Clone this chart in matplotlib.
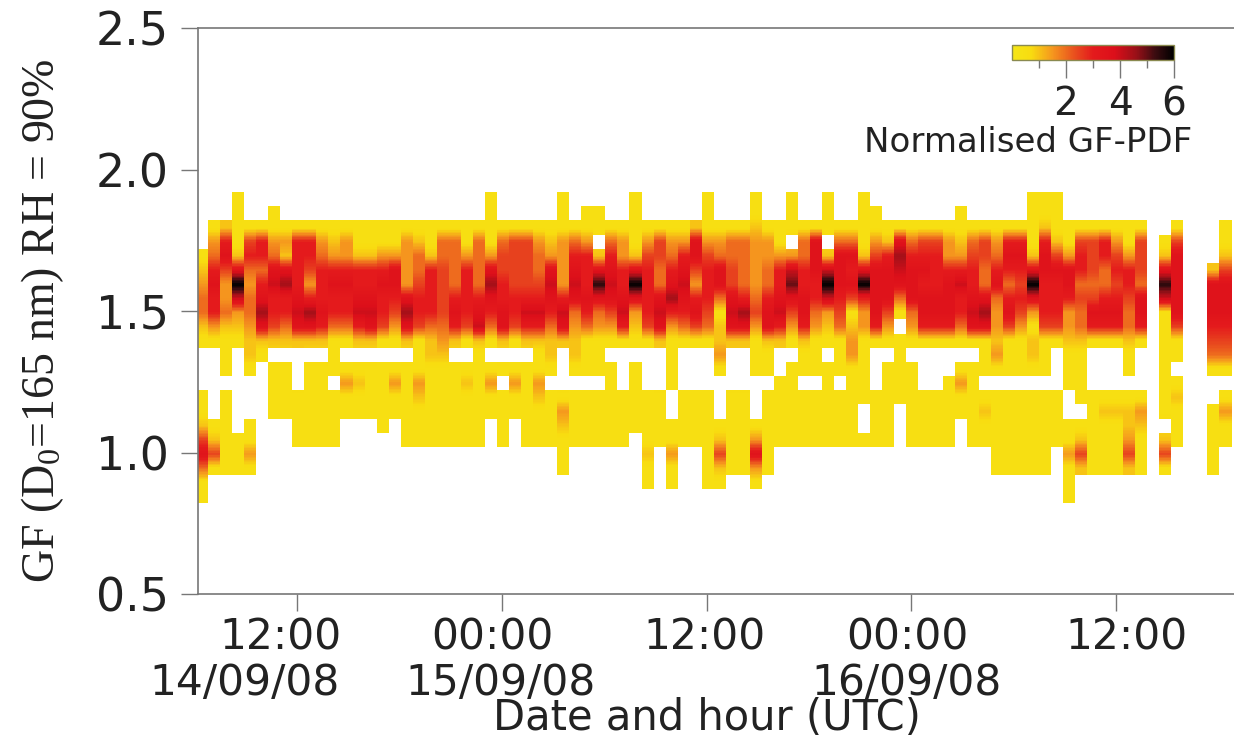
#!/usr/bin/env python3
# GF-PDF time series, RH = 90%, D0 = 165 nm
import numpy as np
import matplotlib
matplotlib.use('Agg')
import matplotlib.pyplot as plt
from matplotlib.colors import LinearSegmentedColormap

W, H = 1234, 739

# one entry per time step: PDF in half units (hex digit), '.' = no data
# first 11 chars GF 1.895 -> 1.395, next 11 chars GF 1.345 -> 0.845
upper = [
    "....1234421", "..134676631", "..267533421", "111127c8321", "..156434432",
    "..166467972", ".1134786652", "..132796642", "..166667872", "..166536972",
    "..134666762", "..123676641", "..133676641", "..112667862", "..112667872",
    "..113676651", "..113776531", "..133337972", "..124456651", "..112666642",
    "..144555543", "..144446762", "..113666651", "..144446782", "11113797641",
    "..145566772", "..155556651", "..155556862", "..134456862", "..123787642",
    "11133336872", "..146787432", ".1136667641", ".11.27b7431", "..146787531",
    "..133667861", "111127c7321", "..135666651", "..155447872", "..134679631",
    "..136787641", "..277536751", "11135666541", "..134774122", "..144557872",
    "..144446972", "11233334531", "..133446772", "..113667862", "111.38a7531",
    "..144667762", "..177766431", "111.28c8321", "..147776541", "..147675123",
    "111127c6331", ".1135777761", "..126777531", "..1798741.1", "..146777431",
    "..156767761", "..156667761", "..133677761", ".1123686641", "..145667871",
    "..155447971", "..134674332", "..167646751", "..167656531", "111127c7312",
    "11267766651", "11125766651", "..113776332", "..156645442", "..155545761",
    "..166446761", "..135656761", "..113665442", "..155547761", "...........",
    "...127b8111", "..157777751", "...........", "...........", ".....277765",
    "..112577765",
]
lower = [
    "...11257411", ".....1251..", "11.111111..", "......111..", "21...1131..",
    "1..........", ".1111......", ".1111......", "...1111....", ".111111....",
    ".111111....", "11.1111....", ".1311......", ".1211......", ".1111......",
    ".11111.....", ".1311......", ".111111....", "1132111....", "2111111....",
    "2111111....", ".111111....", ".121111....", "1111111....", ".1311......",
    ".1.1111....", ".1311......", ".111111....", "1132111....", "21.1111....",
    "...132111..", "21.1111....", "11.1111....", "11.1111....", ".111111....",
    "...1111....", ".11111.....", "...1111211.", "...1111....", "111..11311.",
    "...1111....", "...1111....", "...1111111.", "31...12521.", "...111111..",
    "...111111..", "11...13731.", "11.111111..", "..11111....", ".111111....",
    "11.1111....", "11.1111....", ".111111....", "11.1111....", "3111111....",
    "1111..1....", "...1111....", ".111111....", "1111.......", ".111111....",
    "...1111....", "...1111....", "..11111....", ".1311......", ".111111....",
    "11.1211....", "31.111111..", "11.111111..", "11.111111..", "21.111111..",
    "11.111111..", "...1111....", "111..113111", "1111.1252..", "...111111..",
    "...121111..", "...121111..", "11.122352..", "...132111..", "...........",
    "11111.251..", "1.12111....", "...........", "...........", "41..11111..",
    "41.1311....",
]

gf_centres = np.arange(1.895, 0.84, -0.05)
gf_ticks = [0.5, 1.0, 1.5, 2.0, 2.5]
hour_ticks = [12, 24, 36, 48, 60]
cbar_ticks = [2, 4, 6]
cbar_minor = [1, 3, 5]
hour_labels = ["12:00", "00:00", "12:00", "00:00", "12:00"]
date_labels = ["14/09/08", "15/09/08", "16/09/08"]

t0 = 6.08    # hours since 14/09 00:00, left edge of the first step
dt = 0.7057


def decode(col):
    col = col.ljust(22, '.')[:22]
    return [np.nan if c == '.' else int(c, 16) / 2.0 for c in col]


pdf = np.array([decode(u + l) for u, l in zip(upper, lower)]).T
pdf = pdf[::-1]
gf = gf_centres[::-1]

# smooth vertically inside the measured bins, columns stay blocky
gf_edges = np.arange(0.82, 1.9201, 0.005)
gf_fine = 0.5 * (gf_edges[1:] + gf_edges[:-1])
idx = np.clip(((gf_fine - 0.82) / 0.05).astype(int), 0, len(gf) - 1)
fine = np.full((len(gf_fine), pdf.shape[1]), np.nan)
for j in range(pdf.shape[1]):
    ok = ~np.isnan(pdf[:, j])
    if ok.any():
        v = np.interp(gf_fine, gf[ok], pdf[ok, j])
        fine[:, j] = np.where(ok[idx], v, np.nan)

t_edges = t0 + dt * np.arange(pdf.shape[1] + 1)

cmap = LinearSegmentedColormap.from_list('gfpdf', [
    (0.0, '#f5e616'), (0.7 / 6, '#f8dc10'), (1.5 / 6, '#f5961e'),
    (2.4 / 6, '#e8481e'), (3.0 / 6, '#e41a1c'), (3.8 / 6, '#dc0f1a'),
    (4.6 / 6, '#9a1018'), (5.3 / 6, '#3c0c10'), (1.0, '#000000')])

plt.rcParams['font.family'] = 'DejaVu Sans'
GREY = '#777777'
TXT = '#222222'

fig = plt.figure(figsize=(W / 100, H / 100), dpi=100)
ax = fig.add_axes([198 / W, 1 - 594 / H, (W - 198) / W, (594 - 28) / H])
mesh = ax.pcolormesh(t_edges, gf_edges, np.ma.masked_invalid(fine),
                     cmap=cmap, vmin=0, vmax=6, linewidth=0, rasterized=True)
ax.set_xlim(12 + (198 - 297) * 12 / 204.75, 12 + (W - 297) * 12 / 204.75)
ax.set_ylim(0.5, 2.5)
ax.spines['right'].set_visible(False)
for s in ['left', 'top', 'bottom']:
    ax.spines[s].set_color(GREY)
    ax.spines[s].set_linewidth(1.2)
ax.set_yticks(gf_ticks)
ax.set_yticklabels(['%.1f' % g for g in gf_ticks], fontsize=33, color=TXT)
ax.set_xticks(hour_ticks)
ax.set_xticklabels([])
ax.tick_params(axis='both', length=12, width=1, color=GREY)
ax.tick_params(axis='y', pad=9)

# labels sit off their ticks in the original
for x, s in zip([281, 492, 704, 907, 1127], hour_labels):
    fig.text(x / W, 1 - 650 / H, s, ha='center', va='baseline', fontsize=30.5, color=TXT)
for x, s in zip([245, 500, 907], date_labels):
    fig.text(x / W, 1 - 695 / H, s, ha='center', va='baseline', fontsize=30.5, color=TXT)
fig.text(707 / W, 1 - 730 / H, 'Date and hour (UTC)', ha='center', va='baseline',
         fontsize=30, color=TXT)

plt.rcParams['mathtext.default'] = 'regular'
fig.text(43 / W, 1 - 321 / H, 'GF (D$_0$=165 nm) RH = 90%', rotation=90, ha='center',
         va='center', fontsize=33, color=TXT, family='Liberation Serif')

cax = fig.add_axes([1012 / W, 1 - 60 / H, (1174 - 1012) / W, 15 / H])
cb = fig.colorbar(mesh, cax=cax, orientation='horizontal')
cb.set_ticks(cbar_ticks)
cb.set_ticklabels([str(c) for c in cbar_ticks])
cax.set_xticks(cbar_minor, minor=True)
cax.tick_params(axis='x', which='major', length=13, width=1, color=GREY,
                labelsize=28, labelcolor=TXT, pad=5)
cax.tick_params(axis='x', which='minor', length=6, width=1, color=GREY)
cb.outline.set_edgecolor('#8a8a50')
cb.outline.set_linewidth(1)
fig.text(1028 / W, 1 - 152 / H, 'Normalised GF-PDF', ha='center', va='baseline',
         fontsize=24.5, color=TXT)

fig.savefig('out.png', dpi=100)
